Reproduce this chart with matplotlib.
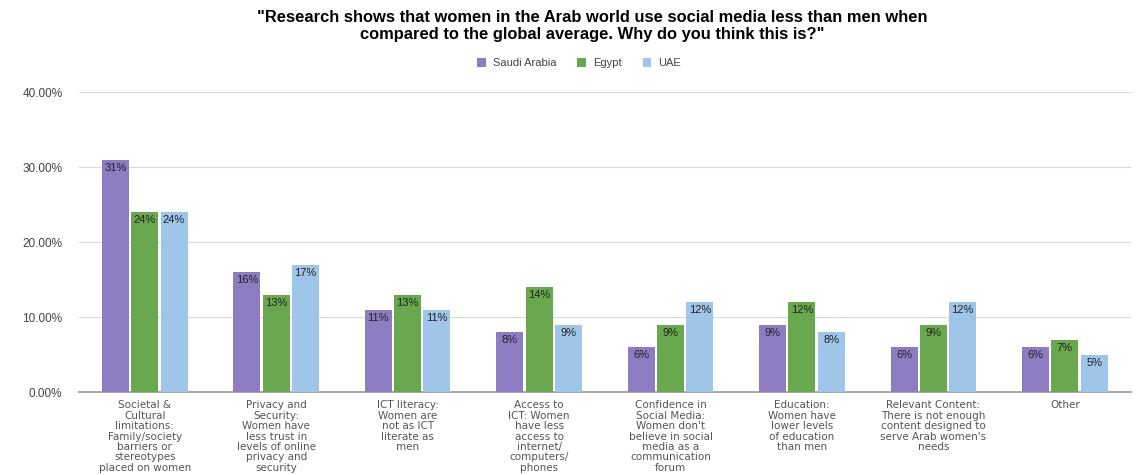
import matplotlib.pyplot as plt
import numpy as np

# data
categories = [
    "Societal &\nCultural\nlimitations:\nFamily/society\nbarriers or\nstereotypes\nplaced on women",
    "Privacy and\nSecurity:\nWomen have\nless trust in\nlevels of online\nprivacy and\nsecurity",
    "ICT literacy:\nWomen are\nnot as ICT\nliterate as\nmen",
    "Access to\nICT: Women\nhave less\naccess to\ninternet/\ncomputers/\nphones",
    "Confidence in\nSocial Media:\nWomen don't\nbelieve in social\nmedia as a\ncommunication\nforum",
    "Education:\nWomen have\nlower levels\nof education\nthan men",
    "Relevant Content:\nThere is not enough\ncontent designed to\nserve Arab women's\nneeds",
    "Other",
]
series_names = ["Saudi Arabia", "Egypt", "UAE"]
saudi = [31, 16, 11, 8, 6, 9, 6, 6]
egypt = [24, 13, 13, 14, 9, 12, 9, 7]
uae = [24, 17, 11, 9, 12, 8, 12, 5]
yticks = [0, 10, 20, 30, 40]

colors = ["#8e7cc3", "#6aa84f", "#9fc5e8"]
plt.rcParams['font.family'] = ['Liberation Sans', 'DejaVu Sans']

fig = plt.figure(figsize=(11.42, 4.75), dpi=100)
ax = fig.add_axes([0.0692, 0.1747, 0.9208, 0.6316])

x = np.arange(len(categories))
w = 0.205
gap = 0.018
for i, (vals, col, name) in enumerate(zip([saudi, egypt, uae], colors, series_names)):
    pos = x + (i - 1) * (w + gap)
    ax.bar(pos, vals, w, color=col, label=name, zorder=3)
    for p, v in zip(pos, vals):
        ax.text(p, v - 0.4, "%d%%" % v, ha='center', va='top', fontsize=8,
                color='#222222', zorder=4)

ax.set_xlim(-0.5, len(categories) - 0.5)
ax.set_ylim(0, 40)
ax.set_yticks(yticks)
ax.set_yticklabels(["%.2f%%" % t for t in yticks], fontsize=8.5, color='#444444')
ax.set_xticks(x)
ax.set_xticklabels(categories, fontsize=7.5, color='#555555', linespacing=1.05,
                   family='DejaVu Sans')
ax.tick_params(axis='y', length=0, pad=12)
ax.tick_params(axis='x', length=0, pad=6)
ax.grid(axis='y', color='#d9d9d9', linewidth=0.8, zorder=0)
for s in ['top', 'right', 'left']:
    ax.spines[s].set_visible(False)
ax.spines['bottom'].set_color('#999999')
ax.spines['bottom'].set_linewidth(1.2)

fig.text(0.519, 0.978, '"Research shows that women in the Arab world use social media less than men when\ncompared to the global average. Why do you think this is?"',
         ha='center', va='top', fontsize=11.9, fontweight='bold', linespacing=1.12)

fig.legend(loc='center', bbox_to_anchor=(0.507, 0.867), ncol=3, frameon=False,
           fontsize=8, handlelength=0.8, handleheight=0.8, columnspacing=1.9,
           handletextpad=0.6, labelcolor='#444444')

plt.savefig('out.png', dpi=100)
